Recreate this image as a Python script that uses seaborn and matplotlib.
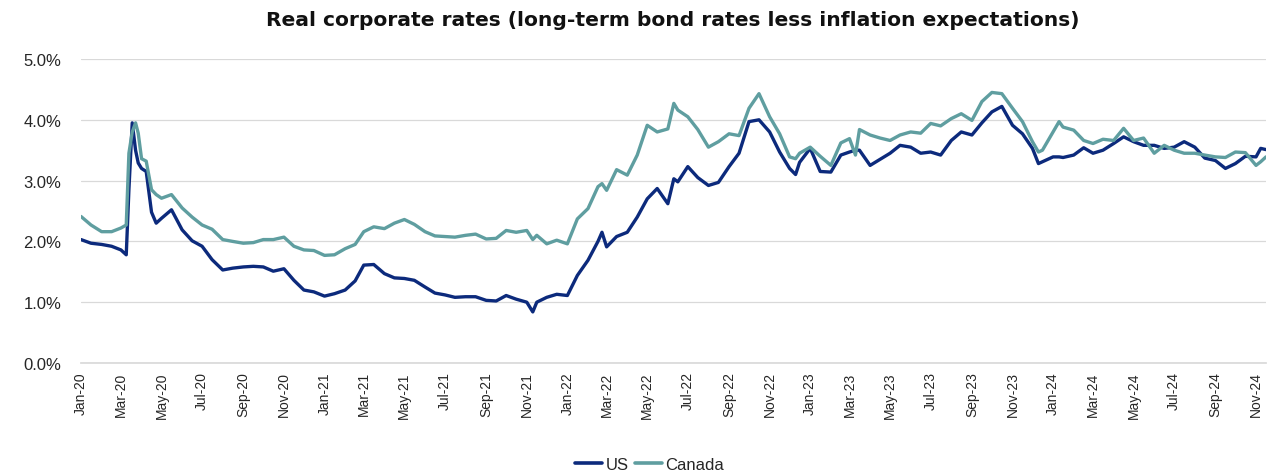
import matplotlib
matplotlib.use("Agg")
import matplotlib.pyplot as plt
import matplotlib.dates as mdates
from matplotlib.ticker import FuncFormatter
from matplotlib.lines import Line2D
import seaborn as sns
import pandas as pd

dates = [
    "2020-01-01", "2020-01-16", "2020-02-01", "2020-02-16", "2020-03-01", "2020-03-09",
    "2020-03-13", "2020-03-18", "2020-03-23", "2020-03-27", "2020-04-01", "2020-04-08",
    "2020-04-16", "2020-04-23", "2020-05-01", "2020-05-16", "2020-06-01", "2020-06-16",
    "2020-07-01", "2020-07-16", "2020-08-01", "2020-08-16", "2020-09-01", "2020-09-16",
    "2020-10-01", "2020-10-16", "2020-11-01", "2020-11-16", "2020-12-01", "2020-12-16",
    "2021-01-01", "2021-01-16", "2021-02-01", "2021-02-16", "2021-03-01", "2021-03-16",
    "2021-04-01", "2021-04-16", "2021-05-01", "2021-05-16", "2021-06-01", "2021-06-16",
    "2021-07-01", "2021-07-16", "2021-08-01", "2021-08-16", "2021-09-01", "2021-09-16",
    "2021-10-01", "2021-10-16", "2021-11-01", "2021-11-10", "2021-11-16", "2021-12-01",
    "2021-12-16", "2022-01-01", "2022-01-16", "2022-02-01", "2022-02-16", "2022-02-22",
    "2022-03-01", "2022-03-16", "2022-04-01", "2022-04-16", "2022-05-01", "2022-05-16",
    "2022-06-01", "2022-06-10", "2022-06-16", "2022-07-01", "2022-07-16", "2022-08-01",
    "2022-08-16", "2022-09-01", "2022-09-16", "2022-10-01", "2022-10-16", "2022-11-01",
    "2022-11-16", "2022-12-01", "2022-12-10", "2022-12-16", "2023-01-01", "2023-01-16",
    "2023-02-01", "2023-02-16", "2023-03-01", "2023-03-10", "2023-03-16", "2023-04-01",
    "2023-04-16", "2023-05-01", "2023-05-16", "2023-06-01", "2023-06-16", "2023-07-01",
    "2023-07-16", "2023-08-01", "2023-08-16", "2023-09-01", "2023-09-16", "2023-10-01",
    "2023-10-16", "2023-11-01", "2023-11-16", "2023-12-01", "2023-12-10", "2023-12-16",
    "2024-01-01", "2024-01-10", "2024-01-16", "2024-02-01", "2024-02-16", "2024-03-01",
    "2024-03-16", "2024-04-01", "2024-04-16", "2024-05-01", "2024-05-16", "2024-06-01",
    "2024-06-16", "2024-07-01", "2024-07-16", "2024-08-01", "2024-08-16", "2024-09-01",
    "2024-09-16", "2024-10-01", "2024-10-16", "2024-11-01", "2024-11-08", "2024-11-16",
]

us = [
    2.03, 1.97, 1.95, 1.92, 1.86, 1.78,
    2.85, 3.95, 3.50, 3.29, 3.20, 3.15,
    2.48, 2.30, 2.38, 2.52, 2.19, 2.01,
    1.92, 1.70, 1.53, 1.56, 1.58, 1.59,
    1.58, 1.51, 1.55, 1.36, 1.20, 1.17,
    1.10, 1.14, 1.20, 1.35, 1.61, 1.62,
    1.47, 1.40, 1.39, 1.36, 1.25, 1.15,
    1.12, 1.08, 1.09, 1.09, 1.03, 1.02,
    1.11, 1.05, 1.00, 0.84, 1.00, 1.08,
    1.13, 1.11, 1.44, 1.69, 2.00, 2.15,
    1.91, 2.08, 2.15, 2.40, 2.70, 2.87,
    2.62, 3.03, 2.98, 3.23, 3.05, 2.92,
    2.97, 3.23, 3.45, 3.97, 4.00, 3.80,
    3.47, 3.20, 3.10, 3.30, 3.53, 3.15,
    3.14, 3.42, 3.47, 3.50, 3.50, 3.25,
    3.35, 3.45, 3.58, 3.55, 3.45, 3.47,
    3.42, 3.66, 3.80, 3.75, 3.95, 4.13,
    4.22, 3.91, 3.77, 3.53, 3.28, 3.31,
    3.39, 3.39, 3.38, 3.42, 3.54, 3.45,
    3.50, 3.61, 3.72, 3.64, 3.58, 3.58,
    3.53, 3.55, 3.64, 3.55, 3.37, 3.33,
    3.20, 3.28, 3.40, 3.39, 3.53, 3.51,
]

canada = [
    2.41, 2.27, 2.16, 2.16, 2.22, 2.27,
    3.45, 3.80, 3.95, 3.78, 3.36, 3.32,
    2.85, 2.77, 2.71, 2.77, 2.55, 2.40,
    2.27, 2.20, 2.03, 2.00, 1.97, 1.98,
    2.03, 2.03, 2.07, 1.92, 1.86, 1.85,
    1.77, 1.78, 1.88, 1.95, 2.16, 2.24,
    2.21, 2.30, 2.36, 2.28, 2.16, 2.09,
    2.08, 2.07, 2.10, 2.12, 2.04, 2.05,
    2.18, 2.15, 2.18, 2.03, 2.10, 1.96,
    2.02, 1.96, 2.37, 2.54, 2.90, 2.95,
    2.84, 3.18, 3.09, 3.42, 3.91, 3.80,
    3.85, 4.27, 4.16, 4.05, 3.84, 3.55,
    3.64, 3.77, 3.74, 4.19, 4.43, 4.05,
    3.77, 3.39, 3.36, 3.45, 3.55, 3.40,
    3.25, 3.62, 3.69, 3.42, 3.84, 3.75,
    3.70, 3.66, 3.75, 3.80, 3.78, 3.94,
    3.90, 4.02, 4.10, 3.99, 4.30, 4.45,
    4.43, 4.19, 3.97, 3.64, 3.47, 3.50,
    3.80, 3.97, 3.88, 3.83, 3.66, 3.61,
    3.68, 3.66, 3.86, 3.66, 3.70, 3.45,
    3.58, 3.50, 3.45, 3.45, 3.42, 3.39,
    3.38, 3.47, 3.46, 3.25, 3.31, 3.39,
]

series_names = ["US", "Canada"]
colors = {"US": "#0c2a7c", "Canada": "#5f9ea0"}
y_ticks = [0, 1, 2, 3, 4, 5]
title = "Real corporate rates (long-term bond rates less inflation expectations)"

df = pd.DataFrame({"date": pd.to_datetime(dates), "US": us, "Canada": canada})
long = df.melt(id_vars="date", var_name="series", value_name="rate")

sns.set_theme(style="white")
plt.rcParams["font.family"] = ["Liberation Sans", "DejaVu Sans"]

W, H = 1284, 477
fig = plt.figure(figsize=(W / 100, H / 100), dpi=100)
ax = fig.add_axes([81 / W, 1 - 364 / H, (1266 - 81) / W, (364 - 60) / H])

sns.lineplot(data=long, x="date", y="rate", hue="series", hue_order=series_names,
             palette=colors, linewidth=2.4, ax=ax, legend=False)

ax.set_ylim(0, 5)
ax.set_yticks(y_ticks)
ax.yaxis.set_major_formatter(FuncFormatter(lambda v, p: f"{v:.1f}%"))
ax.set_xlim(pd.Timestamp("2020-01-01"), pd.Timestamp("2024-11-16"))
ax.xaxis.set_major_locator(mdates.MonthLocator(bymonth=[1, 3, 5, 7, 9, 11]))
ax.xaxis.set_major_formatter(mdates.DateFormatter("%b-%y"))
ax.set_xlabel("")
ax.set_ylabel("")
ax.yaxis.grid(True, color="#d9d9d9", linewidth=0.9)
ax.xaxis.grid(False)
ax.set_axisbelow(True)
for s in ["top", "right", "left"]:
    ax.spines[s].set_visible(False)
ax.spines["bottom"].set_color("#d9d9d9")
ax.tick_params(axis="both", length=0, colors="#262626")
ax.tick_params(axis="y", labelsize=12, pad=14)
ax.tick_params(axis="x", labelsize=10, pad=6)
plt.setp(ax.get_xticklabels(), rotation=90)

handles = [Line2D([0], [0], color=colors[n], linewidth=2.6) for n in series_names]
fig.legend(handles, series_names, loc="center", bbox_to_anchor=(0.506, 0.024), ncol=2,
           frameon=False, handlelength=1.6, columnspacing=0.4, handletextpad=0.2,
           fontsize=12)

fig.text(0.524, 0.957, title, ha="center", va="center", fontsize=14.6,
         fontweight="bold", color="#111111", family=["DejaVu Sans"])

fig.savefig("out.png", dpi=100)
